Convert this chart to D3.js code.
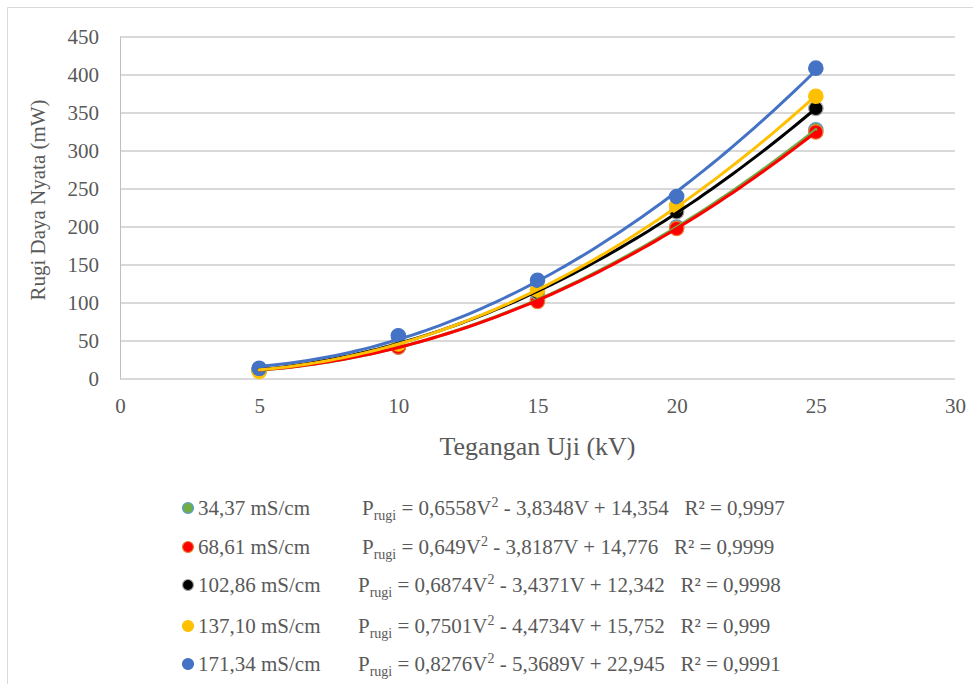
<!DOCTYPE html>
<html>
<head>
<meta charset="utf-8">
<script src="https://cdn.jsdelivr.net/npm/d3@7/dist/d3.min.js"></script>
<style>
  html, body { margin: 0; padding: 0; background: #fff; }
</style>
</head>
<body>
<svg id="chart" width="973" height="684"></svg>
<script>
// Test voltages (kV)
const voltages = [5, 10, 15, 20, 25];

// Conductivity series labels
const seriesNames = ["34,37 mS/cm", "68,61 mS/cm", "102,86 mS/cm", "137,10 mS/cm", "171,34 mS/cm"];

// Measured real power loss (mW) per series
const loss34 = [11, 42, 104, 200, 328];
const loss68 = [12, 42, 102, 198, 325];
const loss102 = [12, 47, 114, 220, 356];
const loss137 = [10, 46, 117, 228, 372];
const loss171 = [14, 57, 130, 240, 409];

// Quadratic trendline coefficients [a, b, c] : P = aV² + bV + c
const fit34 = [0.6558, -3.8348, 14.354];
const fit68 = [0.649, -3.8187, 14.776];
const fit102 = [0.6874, -3.4371, 12.342];
const fit137 = [0.7501, -4.4734, 15.752];
const fit171 = [0.8276, -5.3689, 22.945];

// R² of each fit
const r2Values = ["0,9997", "0,9999", "0,9998", "0,999", "0,9991"];

// Axis ticks
const xTicks = [0, 5, 10, 15, 20, 25, 30];
const yTicks = [0, 50, 100, 150, 200, 250, 300, 350, 400, 450];

const lossSeries = [loss34, loss68, loss102, loss137, loss171];
const fits = [fit34, fit68, fit102, fit137, fit171];

const FONT = "'Liberation Serif', 'Times New Roman', serif";
const TEXT_COLOR = "#595959";

// Marker / line styling per series
const styles = [
  { fill: "#70AD47", stroke: "#5B9BD5", line: "#70AD47" },
  { fill: "#FF0000", stroke: "#ED7D31", line: "#FF0000" },
  { fill: "#000000", stroke: "#A5A5A5", line: "#000000" },
  { fill: "#FFC000", stroke: "#FFC000", line: "#FFC000" },
  { fill: "#4472C4", stroke: "#4472C4", line: "#4472C4" }
];

const svg = d3.select("#chart");

// Chart border (top and left edges)
svg.append("path")
  .attr("d", "M7.5,684 V7.5 H973")
  .attr("fill", "none")
  .attr("stroke", "#d9d9d9")
  .attr("stroke-width", 1);

const plot = { left: 120, right: 955, top: 37, bottom: 379 };

const x = d3.scaleLinear().domain([0, 30]).range([plot.left, plot.right]);
const y = d3.scaleLinear().domain([0, 450]).range([plot.bottom, plot.top]);

// Horizontal gridlines
svg.append("g")
  .selectAll("line")
  .data(yTicks)
  .join("line")
  .attr("x1", plot.left)
  .attr("x2", plot.right)
  .attr("y1", d => y(d))
  .attr("y2", d => y(d))
  .attr("stroke", "#d9d9d9")
  .attr("stroke-width", 2);

// Vertical axis line
svg.append("line")
  .attr("x1", plot.left + 0.5).attr("x2", plot.left + 0.5)
  .attr("y1", plot.top).attr("y2", plot.bottom)
  .attr("stroke", "#bfbfbf")
  .attr("stroke-width", 1);

function styleText(sel, size) {
  return sel.style("font-family", FONT).style("font-size", size + "px").style("fill", TEXT_COLOR);
}

// Y tick labels
const yAxis = d3.axisLeft(y).tickValues(yTicks).tickSize(0).tickPadding(21);
const gy = svg.append("g").attr("transform", `translate(${plot.left},0)`).call(yAxis);
gy.select(".domain").remove();
styleText(gy.selectAll("text"), 21);

// X tick labels
const xAxis = d3.axisBottom(x).tickValues(xTicks).tickSize(0).tickPadding(19);
const gx = svg.append("g").attr("transform", `translate(0,${plot.bottom})`).call(xAxis);
gx.select(".domain").remove();
styleText(gx.selectAll("text"), 21);

// Axis titles
styleText(svg.append("text"), 21)
  .attr("transform", `translate(45,${(plot.top + plot.bottom) / 2 - 8}) rotate(-90)`)
  .attr("text-anchor", "middle")
  .text("Rugi Daya Nyata (mW)");

styleText(svg.append("text"), 26)
  .attr("x", (plot.left + plot.right) / 2)
  .attr("y", 455)
  .attr("text-anchor", "middle")
  .text("Tegangan Uji (kV)");

// Data markers
lossSeries.forEach((vals, i) => {
  svg.append("g")
    .selectAll("circle")
    .data(vals.map((v, j) => [voltages[j], v]))
    .join("circle")
    .attr("cx", d => x(d[0]))
    .attr("cy", d => y(d[1]))
    .attr("r", 7.2)
    .attr("fill", styles[i].fill)
    .attr("stroke", styles[i].stroke)
    .attr("stroke-width", 1.2);
});

// Polynomial trendlines from the fit coefficients
const vSamples = d3.range(5, 25.001, 0.25);
const lineGen = d3.line().x(d => x(d[0])).y(d => y(d[1]));
fits.forEach((c, i) => {
  const pts = vSamples.map(v => [v, c[0] * v * v + c[1] * v + c[2]]);
  svg.append("path")
    .datum(pts)
    .attr("d", lineGen)
    .attr("fill", "none")
    .attr("stroke", styles[i].line)
    .attr("stroke-width", 3)
    .attr("stroke-linecap", "round");
});

// Legend with fit equations
const legendRows = [508, 547, 585, 626, 664];
const eqX = [362, 362, 358, 358, 358];
const fmt = n => Math.abs(n).toString().replace(".", ",");

seriesNames.forEach((name, i) => {
  const ry = legendRows[i];
  svg.append("circle")
    .attr("cx", 188).attr("cy", ry)
    .attr("r", 5.5)
    .attr("fill", styles[i].fill)
    .attr("stroke", styles[i].stroke)
    .attr("stroke-width", 1.2);
  styleText(svg.append("text"), 21)
    .attr("x", 198).attr("y", ry + 7)
    .text(name);

  const c = fits[i];
  const t = styleText(svg.append("text"), 21)
    .style("white-space", "pre")
    .attr("x", eqX[i]).attr("y", ry + 7);
  t.append("tspan").text("P");
  t.append("tspan").style("font-size", "14px").attr("dy", 5).text("rugi");
  t.append("tspan").attr("dy", -5).text(` = ${fmt(c[0])}V`);
  t.append("tspan").style("font-size", "14px").attr("dy", -8).text("2");
  t.append("tspan").attr("dy", 8)
    .text(` ${c[1] < 0 ? "-" : "+"} ${fmt(c[1])}V ${c[2] < 0 ? "-" : "+"} ${fmt(c[2])}   R² = ${r2Values[i]}`);
});
</script>
</body>
</html>
